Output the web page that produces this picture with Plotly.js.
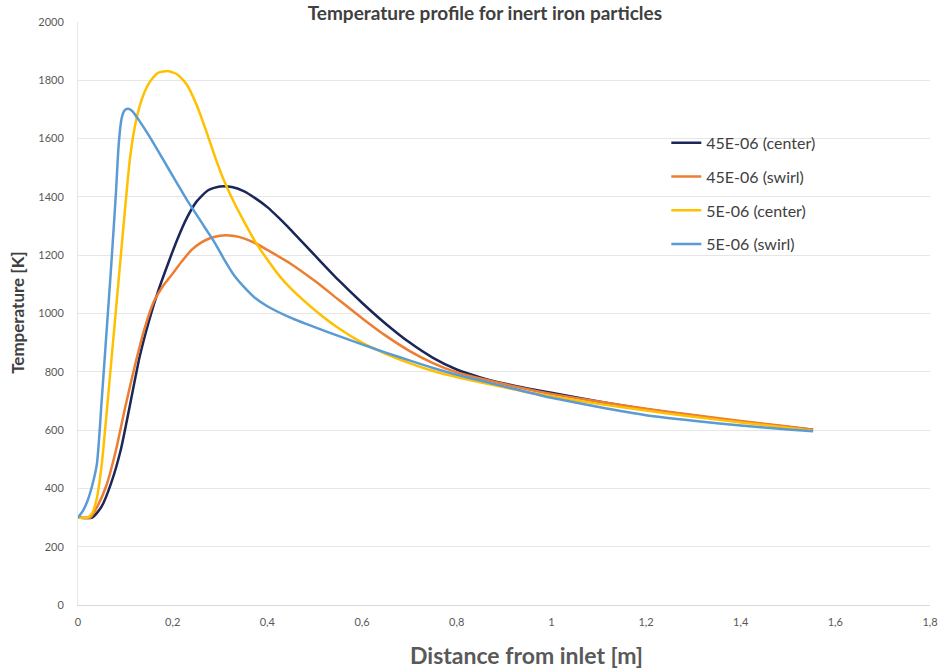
<!DOCTYPE html>
<html>
<head>
<meta charset="utf-8">
<script src="https://cdn.plot.ly/plotly-3.0.1.min.js"></script>
<style>html,body{margin:0;padding:0;background:#fff;}#chart{width:947px;height:670px;}</style>
</head>
<body>
<div id="chart"></div>
<script>
// 45E-06 (center)
const x45c = [0, 0.03, 0.05, 0.07, 0.09, 0.11, 0.13, 0.15, 0.17, 0.19, 0.21, 0.23, 0.25, 0.275, 0.3, 0.325, 0.35, 0.375, 0.4, 0.425, 0.45, 0.475, 0.5, 0.55, 0.6, 0.65, 0.7, 0.75, 0.8, 0.85, 0.9, 0.95, 1.0, 1.1, 1.2, 1.3, 1.4, 1.5, 1.553];
const y45c = [300, 300, 338, 418, 530, 688, 850, 975, 1080, 1170, 1255, 1328, 1383, 1423, 1436, 1434, 1420, 1395, 1365, 1327, 1286, 1243, 1200, 1115, 1037, 965, 901, 848, 808, 781, 760, 743, 728, 698, 672, 650, 629, 611, 601];
// 45E-06 (swirl)
const x45s = [0, 0.026, 0.04, 0.06, 0.08, 0.1, 0.12, 0.14, 0.16, 0.18, 0.2, 0.22, 0.24, 0.26, 0.28, 0.3, 0.32, 0.34, 0.37, 0.4, 0.45, 0.5, 0.55, 0.6, 0.65, 0.7, 0.75, 0.8, 0.85, 0.9, 0.95, 1.0, 1.1, 1.2, 1.3, 1.4, 1.5, 1.553];
const y45s = [300, 300, 335, 410, 530, 680, 820, 945, 1040, 1095, 1137, 1180, 1218, 1243, 1259, 1267, 1268, 1263, 1245, 1218, 1170, 1112, 1048, 984, 924, 872, 830, 798, 777, 758, 740, 724, 698, 673, 652, 631, 612, 601];
// 5E-06 (center)
const x5c = [0, 0.02, 0.03, 0.04, 0.05, 0.06, 0.07, 0.08, 0.09, 0.1, 0.11, 0.12, 0.13, 0.14, 0.15, 0.16, 0.17, 0.19, 0.21, 0.23, 0.25, 0.27, 0.29, 0.31, 0.33, 0.35, 0.375, 0.4, 0.425, 0.45, 0.5, 0.55, 0.6, 0.65, 0.7, 0.75, 0.8, 0.85, 0.9, 0.95, 1.0, 1.1, 1.2, 1.3, 1.4, 1.5, 1.553];
const y5c = [300, 300, 315, 368, 480, 650, 830, 1010, 1190, 1370, 1535, 1640, 1710, 1757, 1790, 1812, 1826, 1832, 1820, 1785, 1718, 1630, 1535, 1450, 1380, 1318, 1245, 1185, 1130, 1085, 1012, 950, 900, 862, 830, 803, 782, 764, 747, 730, 716, 690, 667, 646, 626, 608, 598];
// 5E-06 (swirl)
const x5s = [0, 0.01, 0.02, 0.03, 0.04, 0.05, 0.06, 0.07, 0.08, 0.086, 0.092, 0.098, 0.106, 0.115, 0.13, 0.15, 0.17, 0.19, 0.21, 0.23, 0.25, 0.27, 0.29, 0.31, 0.33, 0.35, 0.375, 0.4, 0.45, 0.5, 0.55, 0.6, 0.65, 0.7, 0.75, 0.8, 0.85, 0.9, 0.95, 1.0, 1.1, 1.2, 1.3, 1.4, 1.5, 1.553];
const y5s = [300, 322, 357, 410, 485, 700, 930, 1160, 1410, 1580, 1668, 1696, 1702, 1694, 1660, 1610, 1555, 1500, 1445, 1390, 1340, 1290, 1240, 1182, 1130, 1092, 1052, 1025, 985, 953, 923, 894, 866, 839, 813, 790, 770, 750, 730, 711, 679, 651, 632, 616, 602, 596];

const names = ['45E-06 (center)', '45E-06 (swirl)', '5E-06 (center)', '5E-06 (swirl)'];
const colors = ['#1b2659', '#ed7d31', '#ffc000', '#5b9bd5'];
const xs = [x45c, x45s, x5c, x5s];
const ys = [y45c, y45s, y5c, y5s];

const traces = names.map((n, i) => ({
  type: 'scatter', mode: 'lines', name: n, x: xs[i], y: ys[i],
  legendgroup: 'g' + i,
  line: {color: colors[i], width: 2.5, shape: 'spline', smoothing: 0.6}
}));

const FONT = 'Lato, "Open Sans", sans-serif';
const layout = {
  width: 947, height: 670,
  margin: {l: 78, r: 17, t: 22, b: 65},
  paper_bgcolor: '#ffffff', plot_bgcolor: '#ffffff',
  separators: ',.',
  font: {family: FONT, color: '#595959', size: 11},
  title: {text: '<b>Temperature profile for inert iron particles</b>', x: 0.512, xref: 'container', xanchor: 'center', y: 0.99, yref: 'container', yanchor: 'top', font: {family: FONT, size: 19, color: '#404040'}},
  xaxis: {range: [0, 1.8], dtick: 0.2, tick0: 0, showgrid: false, zeroline: false, showline: true, linecolor: '#d9d9d9', linewidth: 1, ticks: '', ticklabelstandoff: 7, tickfont: {size: 11, color: '#595959'}, fixedrange: true},
  yaxis: {range: [0, 2000], dtick: 200, tick0: 0, showgrid: true, gridcolor: '#e6e6e6', gridwidth: 1, zeroline: false, showline: true, linecolor: '#e6e6e6', ticks: '', ticklabelstandoff: 11, tickfont: {size: 11, color: '#595959'}, fixedrange: true},
  showlegend: true,
  legend: {x: 0.6905, xanchor: 'left', y: 0.822, yanchor: 'top', bgcolor: 'rgba(0,0,0,0)', font: {family: FONT, size: 16, color: '#404040'}, tracegroupgap: 10, itemwidth: 30},
  annotations: [
    {text: '<b>Distance from inlet [m]</b>', xref: 'paper', yref: 'paper', x: 0.526, y: -0.085, xanchor: 'center', yanchor: 'middle', showarrow: false, font: {family: FONT, size: 23, color: '#595959'}},
    {text: '<b>Temperature [K]</b>', xref: 'paper', yref: 'paper', x: -0.0705, y: 0.501, xanchor: 'center', yanchor: 'middle', textangle: -90, showarrow: false, font: {family: FONT, size: 17, color: '#404040'}}
  ]
};

Plotly.newPlot('chart', traces, layout, {displayModeBar: false, staticPlot: true});
</script>
</body>
</html>
